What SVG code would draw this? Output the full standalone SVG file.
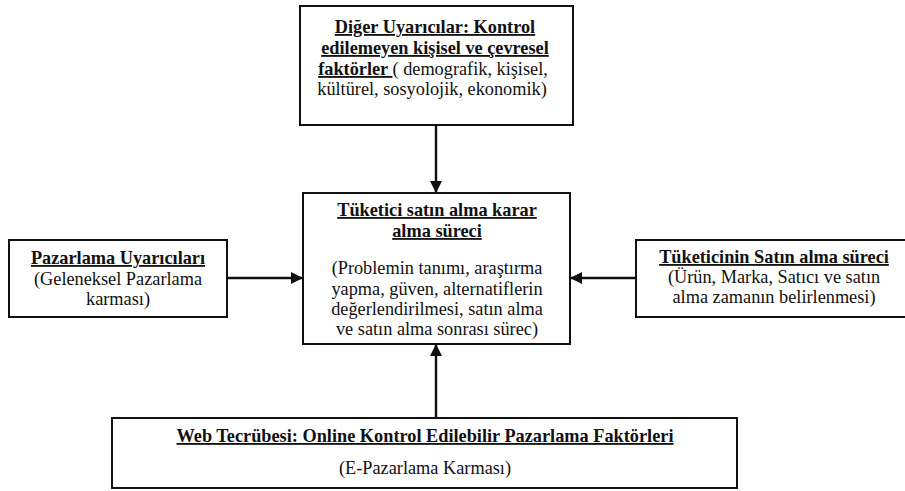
<svg xmlns="http://www.w3.org/2000/svg" width="905" height="491" viewBox="0 0 905 491">
  <style>
    .box { fill: #ffffff; stroke: #111111; stroke-width: 2; }
    .edge { stroke: #111111; stroke-width: 2.4; fill: none; }
    text { font-family: "Liberation Serif", "Times New Roman", serif; font-size: 18.3px; fill: #111111; text-anchor: middle; }
    .h { font-weight: bold; text-decoration: underline; }
  </style>
  <defs>
    <marker id="arrow" viewBox="0 0 12 12" refX="12" refY="6" markerWidth="12" markerHeight="12" markerUnits="userSpaceOnUse" orient="auto">
      <path d="M0,0 L12,6 L0,12 Z" fill="#111111"/>
    </marker>
  </defs>

  <rect width="905" height="491" fill="#ffffff"/>

  <g id="connectors">
    <line class="edge" x1="436" y1="125" x2="436" y2="193" marker-end="url(#arrow)"/>
    <line class="edge" x1="227" y1="278" x2="303" y2="278" marker-end="url(#arrow)"/>
    <line class="edge" x1="636" y1="278" x2="570" y2="278" marker-end="url(#arrow)"/>
    <line class="edge" x1="436" y1="418" x2="436" y2="344" marker-end="url(#arrow)"/>
  </g>

  <g id="diger-uyaricilar">
    <rect class="box" x="300" y="6" width="273" height="119"/>
    <text x="435" y="33" class="h">Diğer Uyarıcılar: Kontrol</text>
    <text x="435" y="54" class="h">edilemeyen kişisel ve çevresel</text>
    <text x="433" y="75"><tspan class="h">faktörler </tspan><tspan>( demografik, kişisel,</tspan></text>
    <text x="432" y="95">kültürel, sosyolojik, ekonomik)</text>
  </g>

  <g id="karar-sureci">
    <rect class="box" x="303" y="193" width="267" height="151"/>
    <text x="437" y="216" class="h">Tüketici satın alma karar</text>
    <text x="437" y="237" class="h">alma süreci</text>
    <text x="437" y="274">(Problemin tanımı, araştırma</text>
    <text x="437" y="295">yapma, güven, alternatiflerin</text>
    <text x="437" y="315">değerlendirilmesi, satın alma</text>
    <text x="437" y="335">ve satın alma sonrası sürec)</text>
  </g>

  <g id="pazarlama-uyaricilari">
    <rect class="box" x="9" y="240" width="218" height="77"/>
    <text x="118" y="264" class="h">Pazarlama Uyarıcıları</text>
    <text x="118" y="285">(Geleneksel Pazarlama</text>
    <text x="118" y="305">karması)</text>
  </g>

  <g id="satin-alma-sureci">
    <rect class="box" x="636" y="240" width="276" height="77"/>
    <text x="774" y="263" class="h">Tüketicinin Satın alma süreci</text>
    <text x="774" y="283">(Ürün, Marka, Satıcı ve satın</text>
    <text x="774" y="303">alma zamanın belirlenmesi)</text>
  </g>

  <g id="web-tecrubesi">
    <rect class="box" x="112" y="418" width="625" height="70"/>
    <text x="425" y="442" class="h">Web Tecrübesi: Online Kontrol Edilebilir Pazarlama Faktörleri</text>
    <text x="425" y="474">(E-Pazarlama Karması)</text>
  </g>
</svg>
